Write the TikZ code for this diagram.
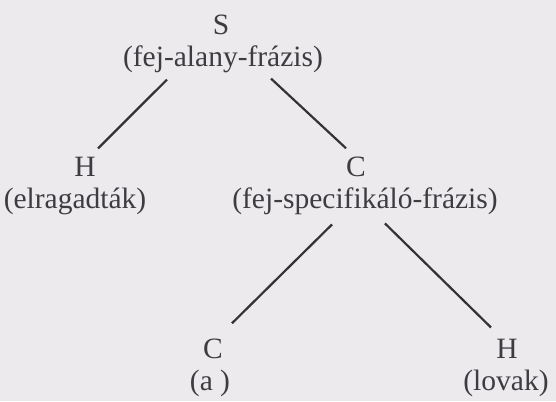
\documentclass[tikz,border=0pt]{standalone}
\usepackage{fontspec}
\setmainfont{Liberation Serif}
\definecolor{bgcol}{RGB}{237,234,238}
\definecolor{inkcol}{RGB}{62,60,65}
\definecolor{linecol}{RGB}{52,50,55}
\begin{document}
\begin{tikzpicture}[x=1pt,y=-1pt,
  lab/.style={anchor=base,inner sep=0pt,text=inkcol,font=\fontsize{29.5}{32}\selectfont},
  gl/.style={anchor=base,inner sep=0pt,text=inkcol,font=\fontsize{29.5}{32}\selectfont},
  edge/.style={draw=linecol,line width=2.2pt}]
\fill[bgcol] (0,0) rectangle (556,401);
\useasboundingbox (0,0) rectangle (556,401);
\node[lab] (s) at (221,35) {S};
\node[gl] (sg) at (223,67) {(fej-alany-frázis)};
\node[lab] (h1) at (85,176) {H};
\node[gl] (h1g) at (75,208) {(elragadták)};
\node[lab] (c1) at (356,176) {C};
\node[gl] (c1g) at (365,208) {(fej-specifikáló-frázis)};
\node[lab] (c2) at (213,358) {C};
\node[gl] (c2g) at (210,390) {(a )};
\node[lab] (h2) at (507,358) {H};
\node[gl] (h2g) at (506,390) {(lovak)};
\draw[edge] ([shift={(-56,6)}]sg.south) -- ([shift={(13,-8)}]h1.north);
\draw[edge] ([shift={(48,5)}]sg.south) -- ([shift={(-10,-8)}]c1.north);
\draw[edge] ([shift={(-33,10)}]c1g.south) -- ([shift={(19,-15)}]c2.north);
\draw[edge] ([shift={(20,9)}]c1g.south) -- ([shift={(-16,-11)}]h2.north);
\end{tikzpicture}
\end{document}
